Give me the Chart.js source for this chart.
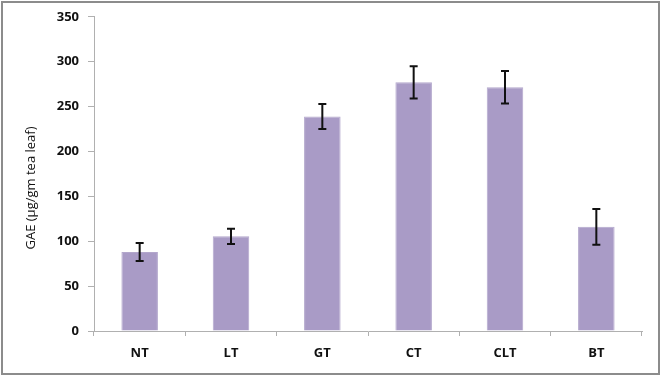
<!DOCTYPE html>
<html>
<head>
<meta charset="utf-8">
<script src="https://cdn.jsdelivr.net/npm/chart.js@4"></script>
<style>
  html, body { margin: 0; padding: 0; background: #fff; }
  #wrap { width: 662px; height: 379px; position: relative; }
</style>
</head>
<body>
<div id="wrap"><canvas id="chart" width="662" height="379"></canvas></div>
<script>
const categories = ["NT", "LT", "GT", "CT", "CLT", "BT"];
const gae = [88, 105.5, 239, 277, 271.5, 116];
const gaeErr = [10, 8.5, 14, 18, 18, 20];
const yTicks = [0, 50, 100, 150, 200, 250, 300, 350];
const yTitle = "GAE (µg/gm tea leaf)";

// outer frame like the spreadsheet chart border + y title (sits a bit low, as in the original)
const framePlugin = {
  id: "frame",
  afterDraw(chart) {
    const ctx = chart.ctx;
    ctx.save();
    ctx.strokeStyle = "#8c8c8c";
    ctx.lineWidth = 2;
    ctx.strokeRect(2, 2, 657, 372);
    ctx.translate(31, 188);
    ctx.rotate(-Math.PI / 2);
    ctx.fillStyle = "#111";
    ctx.font = "13px 'Open Sans'";
    ctx.textAlign = "center";
    ctx.textBaseline = "middle";
    ctx.fillText(yTitle, 0, 0);
    ctx.restore();
  },
};

// black error bars with flat caps
const errorBars = {
  id: "errorBars",
  afterDatasetsDraw(chart) {
    const ctx = chart.ctx;
    const x = chart.scales.x;
    const y = chart.scales.y;
    ctx.save();
    ctx.strokeStyle = "#111";
    ctx.lineWidth = 2;
    gae.forEach((v, i) => {
      const px = x.getPixelForValue(i);
      const top = y.getPixelForValue(v + gaeErr[i]);
      const bot = y.getPixelForValue(v - gaeErr[i]);
      ctx.beginPath();
      ctx.moveTo(px, top);
      ctx.lineTo(px, bot);
      ctx.moveTo(px - 4, top);
      ctx.lineTo(px + 4, top);
      ctx.moveTo(px - 4, bot);
      ctx.lineTo(px + 4, bot);
      ctx.stroke();
    });
    ctx.restore();
  },
};

new Chart(document.getElementById("chart").getContext("2d"), {
  type: "bar",
  data: {
    labels: categories,
    datasets: [
      {
        label: "GAE",
        data: gae,
        backgroundColor: "#a99bc6",
        borderColor: "#b3a7cc",
        borderWidth: 1,
        barPercentage: 0.4,
        categoryPercentage: 1,
      },
    ],
  },
  options: {
    responsive: false,
    animation: false,
    layout: { padding: { left: 0, top: 15, right: 20, bottom: 0 } },
    plugins: {
      legend: { display: false },
      tooltip: { enabled: false },
    },
    scales: {
      x: {
        grid: {
          offset: true,
          drawOnChartArea: false,
          drawTicks: true,
          tickLength: 5,
          color: "#b0b0b0",
        },
        border: { color: "#b0b0b0", width: 1 },
        ticks: {
          color: "#111",
          padding: 9,
          font: { family: "Open Sans", weight: "bold", size: 13 },
        },
        afterFit(axis) {
          axis.height = 379 - 331;
        },
      },
      y: {
        min: 0,
        max: 350,
        afterBuildTicks(axis) {
          axis.ticks = yTicks.map((v) => ({ value: v }));
        },
        grid: {
          drawOnChartArea: false,
          drawTicks: true,
          tickLength: 6,
          color: "#b0b0b0",
        },
        border: { color: "#b0b0b0", width: 1 },
        ticks: {
          color: "#111",
          padding: 9,
          font: { family: "Open Sans", weight: "bold", size: 13 },
        },
        afterFit(axis) {
          axis.width = 94;
        },
      },
    },
  },
  plugins: [errorBars, framePlugin],
});
</script>
</body>
</html>
